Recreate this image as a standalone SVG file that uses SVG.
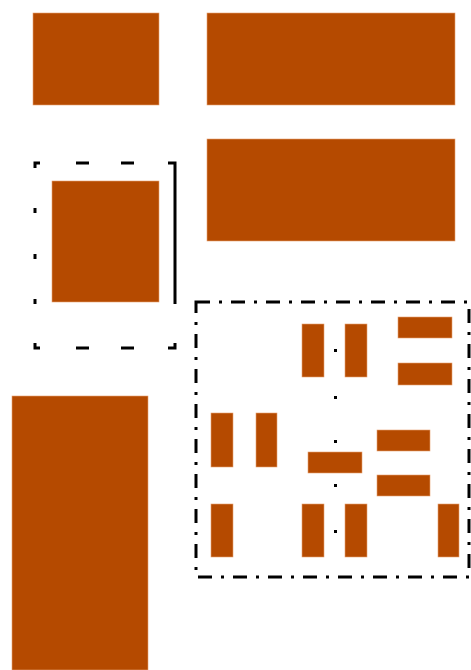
<svg xmlns="http://www.w3.org/2000/svg" width="471" height="670" viewBox="0 0 471 670">
<style>
.n{fill:#b54a00;stroke:#e8a070;stroke-width:0.6}
.b{fill:none;stroke:#000;stroke-width:3}
.d{fill:#000}
</style>
<rect width="471" height="670" fill="#fff"/>
<g id="node-top-left"><rect class="n" x="33" y="13" width="126" height="92"/></g>
<g id="node-top-right"><rect class="n" x="207" y="13" width="248" height="92"/></g>
<g id="node-mid-right"><rect class="n" x="207" y="139" width="248" height="102"/></g>
<g id="group-left">
<path class="b" d="M35 168 V163 H40 M76 163 H89 M121 163 H134 M168 163 H175 V304 M35 208 V213 M35 254 V259 M35 299 V304 M35 343 V348 H40 M76 348 H89 M121 348 H134 M168 348 H175 V343"/>
<rect id="node-left-inner" class="n" x="52" y="181" width="107" height="121"/>
</g>
<g id="node-bottom-left"><rect class="n" x="12" y="396" width="136" height="274"/></g>
<g id="group-right">
<rect class="b" x="196" y="302" width="273" height="275" stroke-dasharray="14 9 3 9"/>
<rect class="n" x="302" y="324" width="22" height="53"/>
<rect class="n" x="345" y="324" width="22" height="53"/>
<rect class="n" x="398" y="317" width="54" height="21"/>
<rect class="n" x="398" y="363" width="54" height="22"/>
<rect class="n" x="211" y="413" width="22" height="54"/>
<rect class="n" x="256" y="413" width="21" height="54"/>
<rect class="n" x="377" y="430" width="53" height="21"/>
<rect class="n" x="308" y="452" width="54" height="21"/>
<rect class="n" x="377" y="475" width="53" height="21"/>
<rect class="n" x="211" y="504" width="22" height="53"/>
<rect class="n" x="302" y="504" width="22" height="53"/>
<rect class="n" x="345" y="504" width="22" height="53"/>
<rect class="n" x="438" y="504" width="21" height="53"/>
</g>
<g id="connectors">
<rect class="d" x="334" y="349" width="3" height="3"/>
<rect class="d" x="334" y="396" width="3" height="3"/>
<rect class="d" x="334" y="440" width="3" height="3"/>
<rect class="d" x="334" y="484" width="3" height="3"/>
<rect class="d" x="334" y="530" width="3" height="3"/>
</g>
</svg>
